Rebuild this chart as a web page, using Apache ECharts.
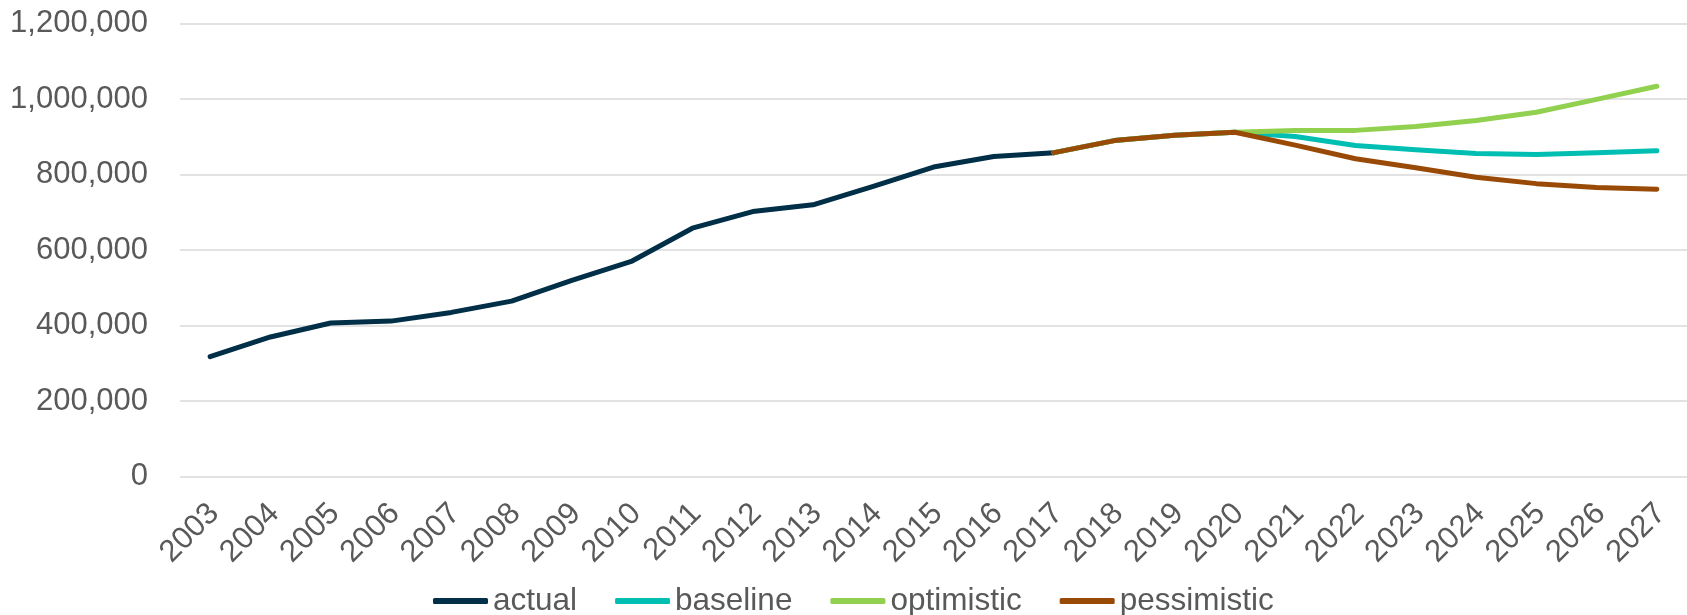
<!DOCTYPE html>
<html>
<head>
<meta charset="utf-8">
<script src="https://cdn.jsdelivr.net/npm/echarts@6/dist/echarts.min.js"></script>
<style>
html,body{margin:0;padding:0;background:#fff;}
#chart{width:1687px;height:615px;}
</style>
</head>
<body>
<div id="chart"></div>
<script>
const years = ['2003','2004','2005','2006','2007','2008','2009','2010','2011','2012','2013','2014','2015','2016','2017','2018','2019','2020','2021','2022','2023','2024','2025','2026','2027'];
const actual = [318000,370000,407000,412000,435000,465000,520000,571000,658000,702000,720000,769000,820000,848000,858000,null,null,null,null,null,null,null,null,null,null];
const baseline = [null,null,null,null,null,null,null,null,null,null,null,null,null,null,858000,890000,904000,912000,901000,877000,866000,856000,853000,858000,863000];
const optimistic = [null,null,null,null,null,null,null,null,null,null,null,null,null,null,858000,890000,904000,912000,917000,917000,927000,943000,965000,999000,1034000];
const pessimistic = [null,null,null,null,null,null,null,null,null,null,null,null,null,null,858000,890000,904000,912000,878000,842000,818000,793000,776000,766000,761000];
const seriesNames = ['actual','baseline','optimistic','pessimistic'];
const colors = ['#002F47','#00BFB2','#92D050','#994A06'];

const FONT = '"Liberation Sans", Arial, sans-serif';
const TXT = '#595959';
const chart = echarts.init(document.getElementById('chart'), null, {renderer:'canvas'});
const dataSets = [actual, baseline, optimistic, pessimistic];
chart.setOption({
  animation: false,
  backgroundColor: '#ffffff',
  grid: {left: 180, right: 0, top: 23.5, bottom: 138.3, containLabel: false},
  legend: {
    data: seriesNames,
    left: 428, top: 580,
    icon: 'roundRect', itemWidth: 55, itemHeight: 6, itemGap: 38,
    selectedMode: false,
    textStyle: {fontFamily: FONT, fontSize: 31.5, color: TXT}
  },
  xAxis: {
    type: 'category', data: years, boundaryGap: true,
    axisLine: {show: false}, axisTick: {show: false},
    axisLabel: {interval: 0, rotate: 45, margin: 36, fontFamily: FONT, fontSize: 31, color: TXT, padding: [11.4, -5.7, 0, 0]}
  },
  yAxis: {
    type: 'value', min: 0, max: 1200000, interval: 200000,
    axisLine: {show: false}, axisTick: {show: false},
    splitLine: {lineStyle: {color: '#D9D9D9', width: 1.5}},
    axisLabel: {margin: 32, fontFamily: FONT, fontSize: 31, color: TXT,
      formatter: v => v.toLocaleString('en-US')}
  },
  series: seriesNames.map((n, i) => ({
    name: n, type: 'line', data: dataSets[i], symbol: 'none', showSymbol: false,
    connectNulls: false,
    lineStyle: {color: colors[i], width: 5, cap: 'round', join: 'round'},
    itemStyle: {color: colors[i]},
    z: 2 + i
  }))
});
</script>
</body>
</html>
